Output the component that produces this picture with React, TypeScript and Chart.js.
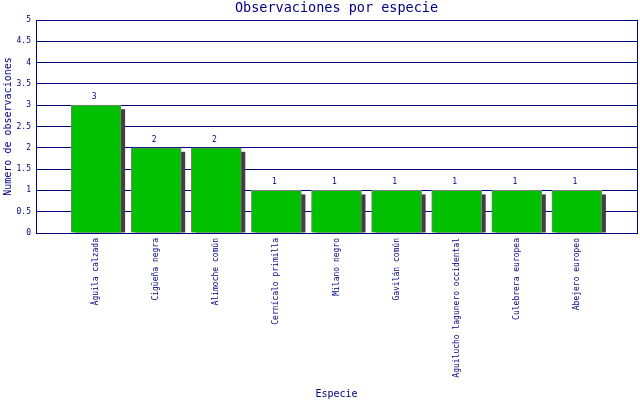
import React, { useEffect, useRef } from "react";
import { Chart, registerables } from "chart.js";

Chart.register(...registerables);

const categories: string[] = [
  "Águila calzada",
  "Cigüeña negra",
  "Alimoche común",
  "Cernícalo primilla",
  "Milano negro",
  "Gavilán común",
  "Aguilucho lagunero occidental",
  "Culebrera europea",
  "Abejero europeo",
];
const observaciones: number[] = [3, 2, 2, 1, 1, 1, 1, 1, 1];
const yMin = 0;
const yMax = 5;
const yStep = 0.5;

const NAVY = "#000080";
const MONO = '"DejaVu Sans Mono", monospace';

const framePlugin = {
  id: "frameAndExtras",
  beforeDatasetsDraw(chart: any) {
    const { ctx } = chart;
    const meta = chart.getDatasetMeta(0);
    ctx.save();
    ctx.fillStyle = "#404040";
    meta.data.forEach((el: any, i: number) => {
      const v = chart.data.datasets[0].data[i];
      if (v == null) return;
      const { x, y, base, width } = el.getProps(["x", "y", "base", "width"], true);
      const h = base - y - 4;
      if (h > 0) ctx.fillRect(x - width / 2 + 4, y + 4, width, h);
    });
    ctx.restore();
  },
  afterDatasetsDraw(chart: any) {
    const { ctx, chartArea } = chart;
    const meta = chart.getDatasetMeta(0);
    ctx.save();
    ctx.fillStyle = NAVY;
    ctx.font = `8px ${MONO}`;
    ctx.textAlign = "center";
    ctx.textBaseline = "middle";
    meta.data.forEach((el: any, i: number) => {
      const v = chart.data.datasets[0].data[i];
      if (v == null) return;
      const { x, y } = el.getProps(["x", "y"], true);
      ctx.fillText(String(v), x - 2, y - 8);
    });
    // right border of the plot frame
    ctx.strokeStyle = NAVY;
    ctx.lineWidth = 1;
    const rx = Math.round(chartArea.right) + 0.5;
    ctx.beginPath();
    ctx.moveTo(rx, Math.round(chartArea.top));
    ctx.lineTo(rx, Math.round(chartArea.bottom) + 1);
    ctx.stroke();
    ctx.restore();
  },
};

export default function App() {
  const canvasRef = useRef<HTMLCanvasElement | null>(null);

  useEffect(() => {
    document.body.style.margin = "0";
    const canvas = canvasRef.current;
    if (!canvas) return;
    const labels = ["", ...categories, ""];
    const data: (number | null)[] = [null, ...observaciones, null];
    const chart = new Chart(canvas, {
      type: "bar",
      data: {
        labels,
        datasets: [
          {
            data,
            backgroundColor: "#00c000",
            borderColor: "#808080",
            borderWidth: 1,
            borderSkipped: "bottom",
            barThickness: 50,
          },
        ],
      },
      options: {
        responsive: false,
        animation: false,
        layout: { padding: { left: 0, right: 3, top: 0, bottom: 0 } },
        plugins: {
          legend: { display: false },
          tooltip: { enabled: false },
          title: {
            display: true,
            fullSize: false,
            text: "Observaciones por especie",
            color: NAVY,
            font: { family: MONO, size: 13.5, weight: "normal", lineHeight: 1 },
            padding: { top: 2, bottom: 4.5 },
          },
        },
        scales: {
          x: {
            type: "category",
            offset: false,
            grid: { display: false, drawTicks: false },
            border: { display: true, color: NAVY, width: 1 },
            ticks: {
              color: NAVY,
              font: { family: MONO, size: 8 },
              minRotation: 90,
              maxRotation: 90,
              autoSkip: false,
              padding: 5,
            },
            title: {
              display: true,
              text: "Especie",
              color: NAVY,
              font: { family: MONO, size: 10 },
              padding: { top: 0, bottom: 0 },
            },
            afterFit(scale: any) {
              scale.height = 167;
              scale.paddingLeft = 0;
              scale.paddingRight = 0;
            },
          },
          y: {
            min: yMin,
            max: yMax,
            grid: { color: NAVY, lineWidth: 1, drawTicks: false },
            border: { display: true, color: NAVY, width: 1 },
            ticks: {
              stepSize: yStep,
              color: NAVY,
              font: { family: MONO, size: 8 },
              padding: 5,
              callback: (v: any) => String(Number(v)),
            },
            title: {
              display: true,
              text: "Numero de observaciones",
              color: NAVY,
              font: { family: MONO, size: 10 },
              padding: { top: 2, bottom: 0 },
            },
            afterFit(scale: any) {
              scale.width = 36;
              scale.paddingTop = 0;
              scale.paddingBottom = 0;
            },
          },
        },
      },
      plugins: [framePlugin],
    });
    return () => chart.destroy();
  }, []);

  return (
    <div style={{ position: "absolute", left: 0, top: 0, width: 640, height: 400, background: "#fff" }}>
      <canvas ref={canvasRef} width={640} height={400} />
    </div>
  );
}
